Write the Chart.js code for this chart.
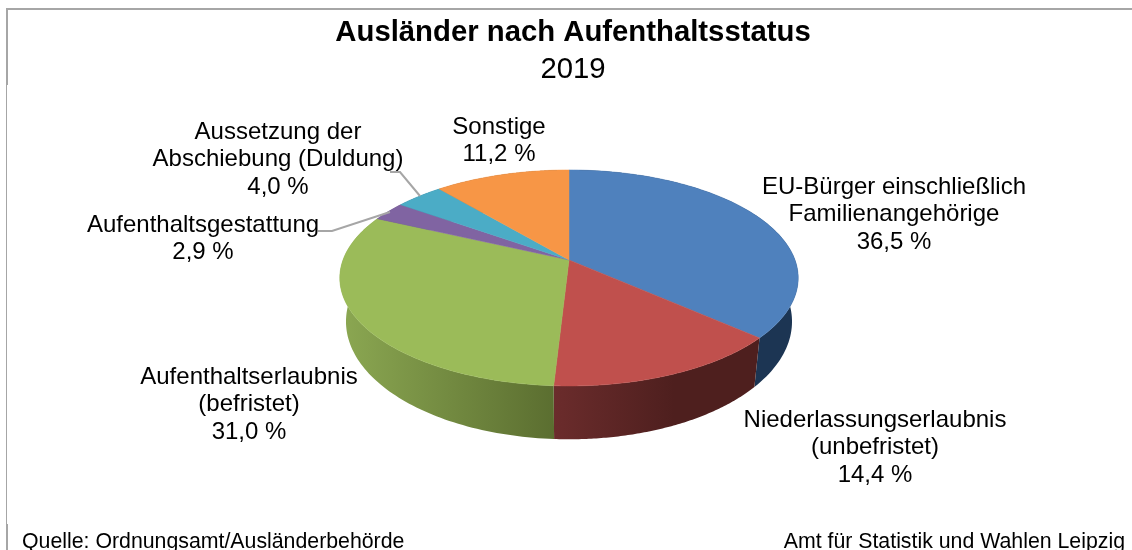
<!DOCTYPE html>
<html lang="de">
<head>
<meta charset="utf-8">
<title>Ausländer nach Aufenthaltsstatus</title>
<script src="https://cdn.jsdelivr.net/npm/chart.js@4"></script>
<style>
  html, body { margin: 0; background: #fff; }
  canvas { display: block; }
</style>
</head>
<body>
<canvas id="statusChart" width="1132" height="550"></canvas>
<script>
const categories = [
  "EU-Bürger einschließlich Familienangehörige",
  "Niederlassungserlaubnis (unbefristet)",
  "Aufenthaltserlaubnis (befristet)",
  "Aufenthaltsgestattung",
  "Aussetzung der Abschiebung (Duldung)",
  "Sonstige",
];
const shares = [36.5, 14.4, 31.0, 2.9, 4.0, 11.2];
const labelLines = [
  ["EU-Bürger einschließlich", "Familienangehörige"],
  ["Niederlassungserlaubnis", "(unbefristet)"],
  ["Aufenthaltserlaubnis", "(befristet)"],
  ["Aufenthaltsgestattung"],
  ["Aussetzung der", "Abschiebung (Duldung)"],
  ["Sonstige"],
];
const sourceLeft = "Quelle: Ordnungsamt/Ausländerbehörde";
const sourceRight = "Amt für Statistik und Wahlen Leipzig";

const topColors = ["#4f81bd", "#c0504d", "#9bbb59", "#8064a2", "#4bacc6", "#f79646"];
const wallColors = [
  ["#1c3553", "#1c3553"],
  ["#6b2c2c", "#4e1f1e"],
  ["#8aa651", "#5b6e30"],
  ["#4b3a60", "#4b3a60"],
  ["#2b6678", "#2b6678"],
  ["#94592a", "#94592a"],
];
// where each label block goes: centre x, first line y
const labelSpots = [[894, 187], [875, 420], [249, 377], [203, 225], [278, 132], [499, 127]];
const leaders = [
  [[318, 231], [332, 231], [390, 212]],
  [[390, 172], [400, 172], [420, 196]],
];

const font = "'Liberation Sans', Arial, sans-serif";
const tilt = 0.1667; // perspective of the disc
const frameColor = "#a6a6a6";

function projector(arc, radiusFactor, flatten, dropY) {
  const cx = arc.x - 4;
  const cy = arc.y + dropY;
  const r = arc.outerRadius * radiusFactor;
  return (angle) => {
    const w = 1 - tilt * Math.sin(angle);
    return [cx + (r * Math.cos(angle)) / w, cy + (r * flatten * Math.sin(angle)) / w];
  };
}

function sample(arc, project, reverse) {
  const pts = [];
  const steps = 96;
  for (let i = 0; i <= steps; i++) {
    const t = reverse ? 1 - i / steps : i / steps;
    pts.push(project(arc.startAngle + (arc.endAngle - arc.startAngle) * t));
  }
  return pts;
}

const disc3d = {
  id: "disc3d",
  beforeDraw(chart) {
    const ctx = chart.ctx;
    ctx.save();
    ctx.fillStyle = "#fff";
    ctx.fillRect(0, 0, chart.width, chart.height);
    ctx.fillStyle = frameColor;
    ctx.fillRect(6, 8, chart.width - 6, 2);
    ctx.fillRect(6, 8, 2, 77);
    ctx.fillRect(6, 85, 1, 439);
    ctx.fillRect(6, 524, 2, 26);
    ctx.restore();
  },
  beforeDatasetsDraw(chart) {
    const ctx = chart.ctx;
    const arcs = chart.getDatasetMeta(0).data;
    ctx.save();

    // side wall first, the top face hides its back part
    arcs.forEach((arc, i) => {
      const upper = sample(arc, projector(arc, 1, 0.4646, 0), false);
      const lower = sample(arc, projector(arc, 0.973, 0.5204, 42), true);
      const xs = lower.map((p) => p[0]);
      const grad = ctx.createLinearGradient(Math.min(...xs), 0, Math.max(...xs), 0);
      grad.addColorStop(0, wallColors[i][0]);
      grad.addColorStop(i === 1 ? 0.6 : 1, wallColors[i][1]);
      ctx.fillStyle = grad;
      ctx.beginPath();
      upper.concat(lower).forEach((p, k) => (k ? ctx.lineTo(p[0], p[1]) : ctx.moveTo(p[0], p[1])));
      ctx.closePath();
      ctx.fill();
    });

    arcs.forEach((arc, i) => {
      const project = projector(arc, 1, 0.4646, 0);
      ctx.fillStyle = topColors[i];
      ctx.strokeStyle = topColors[i];
      ctx.lineWidth = 0.5;
      ctx.beginPath();
      ctx.moveTo(arc.x - 4, arc.y);
      sample(arc, project, false).forEach((p) => ctx.lineTo(p[0], p[1]));
      ctx.closePath();
      ctx.fill();
      ctx.stroke();
    });
    ctx.restore();
    return false;
  },
  afterDraw(chart) {
    const ctx = chart.ctx;
    ctx.save();
    ctx.strokeStyle = frameColor;
    ctx.lineWidth = 2;
    leaders.forEach((line) => {
      ctx.beginPath();
      line.forEach((p, k) => (k ? ctx.lineTo(p[0], p[1]) : ctx.moveTo(p[0], p[1])));
      ctx.stroke();
    });

    ctx.fillStyle = "#000";
    ctx.font = "24px " + font;
    ctx.textAlign = "center";
    ctx.textBaseline = "middle";
    labelLines.forEach((lines, i) => {
      const valueText = shares[i].toFixed(1).replace(".", ",") + " %";
      lines.concat(valueText).forEach((text, k) => {
        ctx.fillText(text, labelSpots[i][0], labelSpots[i][1] + k * 27.6);
      });
    });

    ctx.font = "21.3px " + font;
    ctx.textAlign = "left";
    ctx.fillText(sourceLeft, 22, 542);
    ctx.textAlign = "right";
    ctx.fillText(sourceRight, 1125, 542);
    ctx.restore();
  },
};

new Chart(document.getElementById("statusChart"), {
  type: "pie",
  data: {
    labels: categories,
    datasets: [
      {
        data: shares,
        backgroundColor: topColors,
        borderWidth: 0,
        radius: 226,
      },
    ],
  },
  options: {
    responsive: false,
    animation: false,
    layout: { padding: { left: 14, bottom: 117.1 } },
    plugins: {
      legend: { display: false },
      tooltip: { enabled: false },
      title: {
        display: true,
        text: "Ausländer nach Aufenthaltsstatus",
        color: "#000",
        font: { family: font, size: 29.3, weight: "bold", lineHeight: 1.2 },
        padding: { top: 15, bottom: 0 },
      },
      subtitle: {
        display: true,
        text: "2019",
        color: "#000",
        font: { family: font, size: 29.3, weight: "normal", lineHeight: 1.2 },
        padding: { top: 1.7, bottom: 0 },
      },
    },
  },
  plugins: [disc3d],
});
</script>
</body>
</html>
